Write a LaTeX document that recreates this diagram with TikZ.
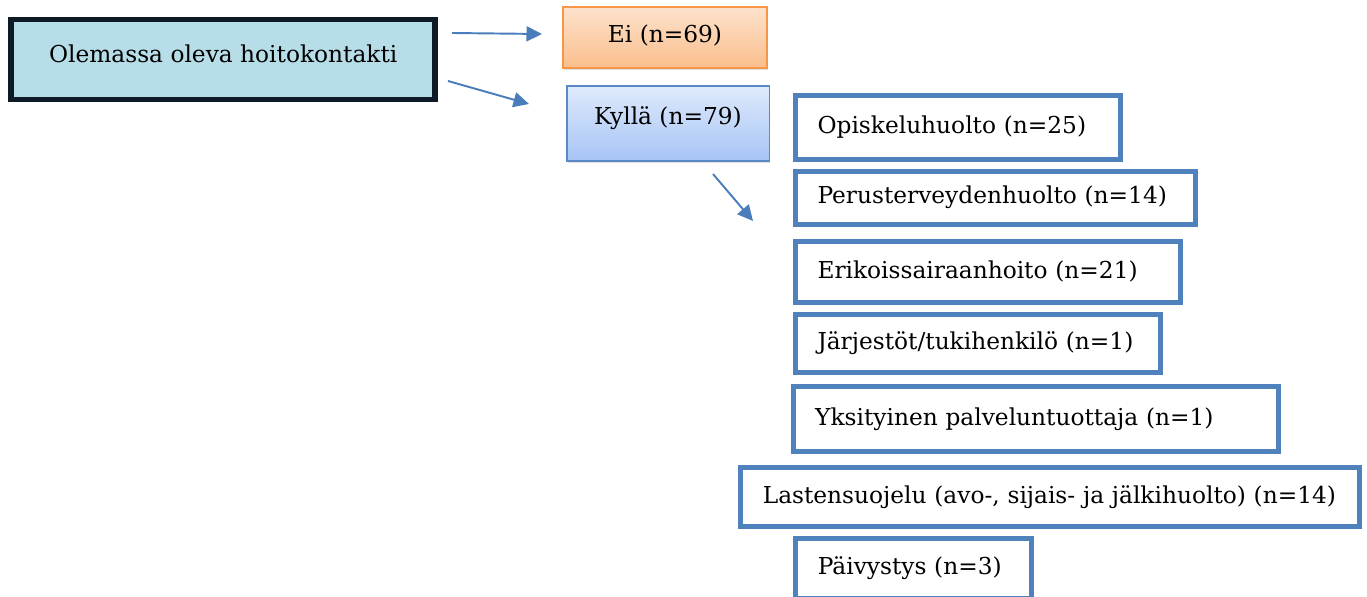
\documentclass[tikz,border=0pt]{standalone}
\usepackage{fontspec}
\setmainfont{DejaVu Serif}
\usetikzlibrary{positioning,arrows.meta,shadows}
\definecolor{listblue}{RGB}{79,129,189}
\definecolor{arrblue}{RGB}{74,126,187}
\definecolor{mainfill}{RGB}{183,222,232}
\definecolor{mainline}{RGB}{14,26,37}
\definecolor{eiline}{RGB}{247,150,70}
\definecolor{eitop}{RGB}{253,226,204}
\definecolor{eibot}{RGB}{250,190,140}
\definecolor{kline}{RGB}{90,138,198}
\definecolor{ktop}{RGB}{223,234,252}
\definecolor{kbot}{RGB}{166,196,245}
\tikzstyle{mainbox}=[rectangle, draw=mainline, fill=mainfill, line width=3.2pt,
                    minimum width=8.48cm, minimum height=1.6cm,
                    text height=9.7pt, text depth=6.8pt]
\tikzstyle{eibox}=[rectangle, draw=eiline, top color=eitop, bottom color=eibot,
 line width=1.1pt, minimum width=4.09cm, minimum height=1.22cm,
 text height=9.7pt, text depth=4.2pt,
 drop shadow={shadow xshift=0.6pt, shadow yshift=-1.2pt, opacity=0.25}]
\tikzstyle{kbox}=[rectangle, draw=kline, top color=ktop, bottom color=kbot,
 line width=0.85pt, minimum width=4.05cm, minimum height=1.5cm,
 text height=9.7pt, text depth=8.7pt,
 drop shadow={shadow xshift=0.6pt, shadow yshift=-1.2pt, opacity=0.25}]
\tikzstyle{lbox}=[rectangle, draw=listblue, fill=white, line width=2.85pt,
 inner xsep=0.44cm, align=left, text height=9.7pt, text depth=3pt]
\tikzstyle{parrow}=[-{Triangle[length=0.31cm, width=0.3cm]}, draw=arrblue,
 fill=arrblue, line width=1.1pt]

\begin{document}
\begin{tikzpicture}[font=\fontsize{13.25}{16}\selectfont]
\useasboundingbox (0,0) rectangle (27.34,-11.92);

\node (OLEM) [mainbox] at (4.464,-1.192) {Olemassa oleva hoitokontakti};
\node (EI) [eibox] at (13.30,-0.75) {Ei (n=69)};
\node (KYLLA) [kbox] at (13.36,-2.467) {Kyllä (n=79)};

\node (OPIS) [lbox, text width=5.61cm, minimum height=1.28cm, anchor=north west]
 at (15.86,-1.854) {Opiskeluhuolto (n=25)};
\node (PERUS) [lbox, text width=7.12cm, minimum height=1.05cm,
 below=0.152cm of OPIS.south west, anchor=north west] {Perusterveydenhuolto (n=14)};
\node (ERIK) [lbox, text width=6.81cm, minimum height=1.21cm,
 below=0.252cm of PERUS.south west, anchor=north west] {Erikoissairaanhoito (n=21)};
\node (JARJ) [lbox, text width=6.42cm, minimum height=1.17cm,
 below=0.134cm of ERIK.south west, anchor=north west] {Järjestöt/tukihenkilö (n=1)};
\node (YKSI) [lbox, text width=8.82cm, minimum height=1.29cm,
 below=0.186cm of JARJ.south west, anchor=north west, xshift=-0.046cm]
 {Yksityinen palveluntuottaja (n=1)};
\node (LAST) [lbox, text width=11.49cm, minimum height=1.19cm,
 below=0.22cm of YKSI.south west, anchor=north west, xshift=-1.048cm]
 {\mbox{Lastensuojelu (avo-, sijais- ja jälkihuolto) (n=14)}};
\node (PAIV) [lbox, text width=3.83cm, minimum height=1.2cm,
 below=0.128cm of LAST.south west, anchor=north west, xshift=1.1cm] {Päivystys (n=3)};

% free ends of the arrows
\coordinate (A1S) at (9.04,-0.66);
\coordinate (A1E) at (10.84,-0.68);
\coordinate (A2S) at (8.96,-1.62);
\coordinate (A2E) at (10.58,-2.08);
\coordinate (A3S) at (14.26,-3.48);
\coordinate (A3E) at (15.06,-4.42);
 \draw[parrow] (A1S) -- (A1E);
 \draw[parrow] (A2S) -- (A2E);
 \draw[parrow] (A3S) -- (A3E);

\end{tikzpicture}
\end{document}
